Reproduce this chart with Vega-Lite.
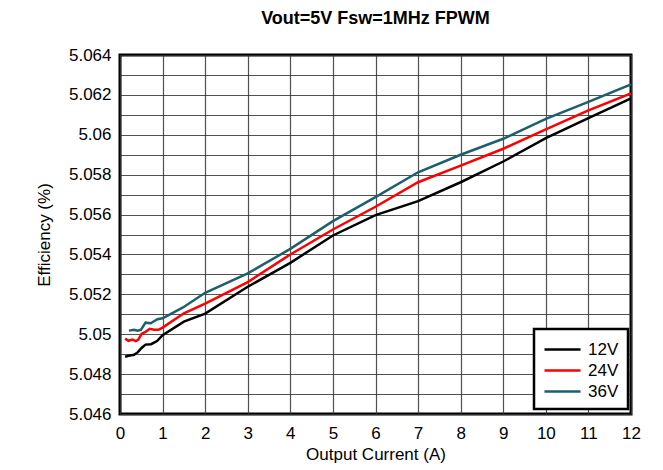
{
  "$schema": "https://vega.github.io/schema/vega-lite/v6.json",
  "width": 511,
  "height": 359,
  "autosize": "none",
  "padding": {"left": 120, "top": 55, "right": 32, "bottom": 56},
  "background": "white",
  "title": {"text": "Vout=5V Fsw=1MHz FPWM", "fontSize": 18, "fontWeight": "bold", "font": "Liberation Sans", "anchor": "middle", "offset": 18, "color": "#000"},
  "config": {
    "font": "Liberation Sans",
    "view": {"stroke": "#000", "strokeWidth": 3},
    "axis": {"labelFont": "Liberation Sans", "titleFont": "Liberation Sans", "labelColor": "#000", "titleColor": "#000", "labelFontSize": 17, "titleFontSize": 17, "titleFontWeight": "normal", "domain": false, "ticks": false, "gridColor": "#333", "gridWidth": 1.2, "gridOpacity": 0.85}
  },
  "data": {"values": [
    {"I": 0.12, "V": 5.04887, "s": "12V"},
    {"I": 0.2, "V": 5.04892, "s": "12V"},
    {"I": 0.33, "V": 5.04897, "s": "12V"},
    {"I": 0.42, "V": 5.0491, "s": "12V"},
    {"I": 0.5, "V": 5.0493, "s": "12V"},
    {"I": 0.6, "V": 5.04948, "s": "12V"},
    {"I": 0.73, "V": 5.0495, "s": "12V"},
    {"I": 0.87, "V": 5.04966, "s": "12V"},
    {"I": 1.0, "V": 5.04995, "s": "12V"},
    {"I": 1.5, "V": 5.05063, "s": "12V"},
    {"I": 2.0, "V": 5.05103, "s": "12V"},
    {"I": 3.0, "V": 5.05238, "s": "12V"},
    {"I": 4.0, "V": 5.05358, "s": "12V"},
    {"I": 5.0, "V": 5.05495, "s": "12V"},
    {"I": 6.0, "V": 5.05597, "s": "12V"},
    {"I": 7.0, "V": 5.05667, "s": "12V"},
    {"I": 8.0, "V": 5.05762, "s": "12V"},
    {"I": 9.0, "V": 5.05866, "s": "12V"},
    {"I": 10.0, "V": 5.05983, "s": "12V"},
    {"I": 11.0, "V": 5.06084, "s": "12V"},
    {"I": 12.0, "V": 5.06182, "s": "12V"},
    {"I": 0.12, "V": 5.04978, "s": "24V"},
    {"I": 0.2, "V": 5.04967, "s": "24V"},
    {"I": 0.29, "V": 5.04973, "s": "24V"},
    {"I": 0.37, "V": 5.04965, "s": "24V"},
    {"I": 0.43, "V": 5.04973, "s": "24V"},
    {"I": 0.51, "V": 5.05003, "s": "24V"},
    {"I": 0.6, "V": 5.05012, "s": "24V"},
    {"I": 0.7, "V": 5.05027, "s": "24V"},
    {"I": 0.8, "V": 5.05022, "s": "24V"},
    {"I": 0.9, "V": 5.05022, "s": "24V"},
    {"I": 1.0, "V": 5.05033, "s": "24V"},
    {"I": 1.5, "V": 5.05105, "s": "24V"},
    {"I": 2.0, "V": 5.05153, "s": "24V"},
    {"I": 3.0, "V": 5.05261, "s": "24V"},
    {"I": 4.0, "V": 5.054, "s": "24V"},
    {"I": 5.0, "V": 5.05525, "s": "24V"},
    {"I": 6.0, "V": 5.05639, "s": "24V"},
    {"I": 7.0, "V": 5.05762, "s": "24V"},
    {"I": 8.0, "V": 5.05845, "s": "24V"},
    {"I": 9.0, "V": 5.0593, "s": "24V"},
    {"I": 10.0, "V": 5.06027, "s": "24V"},
    {"I": 11.0, "V": 5.06122, "s": "24V"},
    {"I": 12.0, "V": 5.06207, "s": "24V"},
    {"I": 0.21, "V": 5.05018, "s": "36V"},
    {"I": 0.33, "V": 5.05022, "s": "36V"},
    {"I": 0.41, "V": 5.05018, "s": "36V"},
    {"I": 0.49, "V": 5.05022, "s": "36V"},
    {"I": 0.6, "V": 5.05058, "s": "36V"},
    {"I": 0.72, "V": 5.05055, "s": "36V"},
    {"I": 0.88, "V": 5.05075, "s": "36V"},
    {"I": 1.0, "V": 5.0508, "s": "36V"},
    {"I": 1.47, "V": 5.05133, "s": "36V"},
    {"I": 2.0, "V": 5.05208, "s": "36V"},
    {"I": 3.0, "V": 5.05305, "s": "36V"},
    {"I": 4.0, "V": 5.05428, "s": "36V"},
    {"I": 5.0, "V": 5.05567, "s": "36V"},
    {"I": 6.0, "V": 5.05687, "s": "36V"},
    {"I": 7.0, "V": 5.05812, "s": "36V"},
    {"I": 8.0, "V": 5.059, "s": "36V"},
    {"I": 9.0, "V": 5.0598, "s": "36V"},
    {"I": 10.0, "V": 5.0608, "s": "36V"},
    {"I": 11.0, "V": 5.06165, "s": "36V"},
    {"I": 12.0, "V": 5.06253, "s": "36V"}
  ]},
  "mark": {"type": "line", "strokeWidth": 2.5, "clip": true},
  "encoding": {
    "x": {"field": "I", "type": "quantitative", "title": "Output Current (A)",
      "scale": {"domain": [0, 12], "nice": false, "zero": false},
      "axis": {"values": [0,1,2,3,4,5,6,7,8,9,10,11,12], "labelPadding": 11, "titlePadding": 5, "labelFlush": false}},
    "y": {"field": "V", "type": "quantitative", "title": "Efficiency (%)",
      "scale": {"domain": [5.046, 5.064], "nice": false, "zero": false},
      "axis": {"values": [5.046,5.047,5.048,5.049,5.05,5.051,5.052,5.053,5.054,5.055,5.056,5.057,5.058,5.059,5.06,5.061,5.062,5.063,5.064],
        "labelExpr": "round(datum.value*1000) % 2 == 0 ? toString(datum.value) : ''",
        "labelPadding": 9, "titlePadding": 15, "labelFlush": false}},
    "color": {"field": "s", "type": "nominal",
      "scale": {"domain": ["12V", "24V", "36V"], "range": ["#000000", "#ff0000", "#1d5f6d"]},
      "legend": {"title": null, "orient": "none", "legendX": 414, "legendY": 274,
        "symbolType": "M-1,0H2.6", "symbolSize": 400, "symbolStrokeWidth": 2.5,
        "labelFontSize": 17, "labelFont": "Liberation Sans", "labelColor": "#000", "labelOffset": 22,
        "rowPadding": 1, "padding": 9, "strokeColor": "#000", "fillColor": "white",
        "encode": {"legend": {"update": {"strokeWidth": {"value": 2.5}}}}}}
  }
}
